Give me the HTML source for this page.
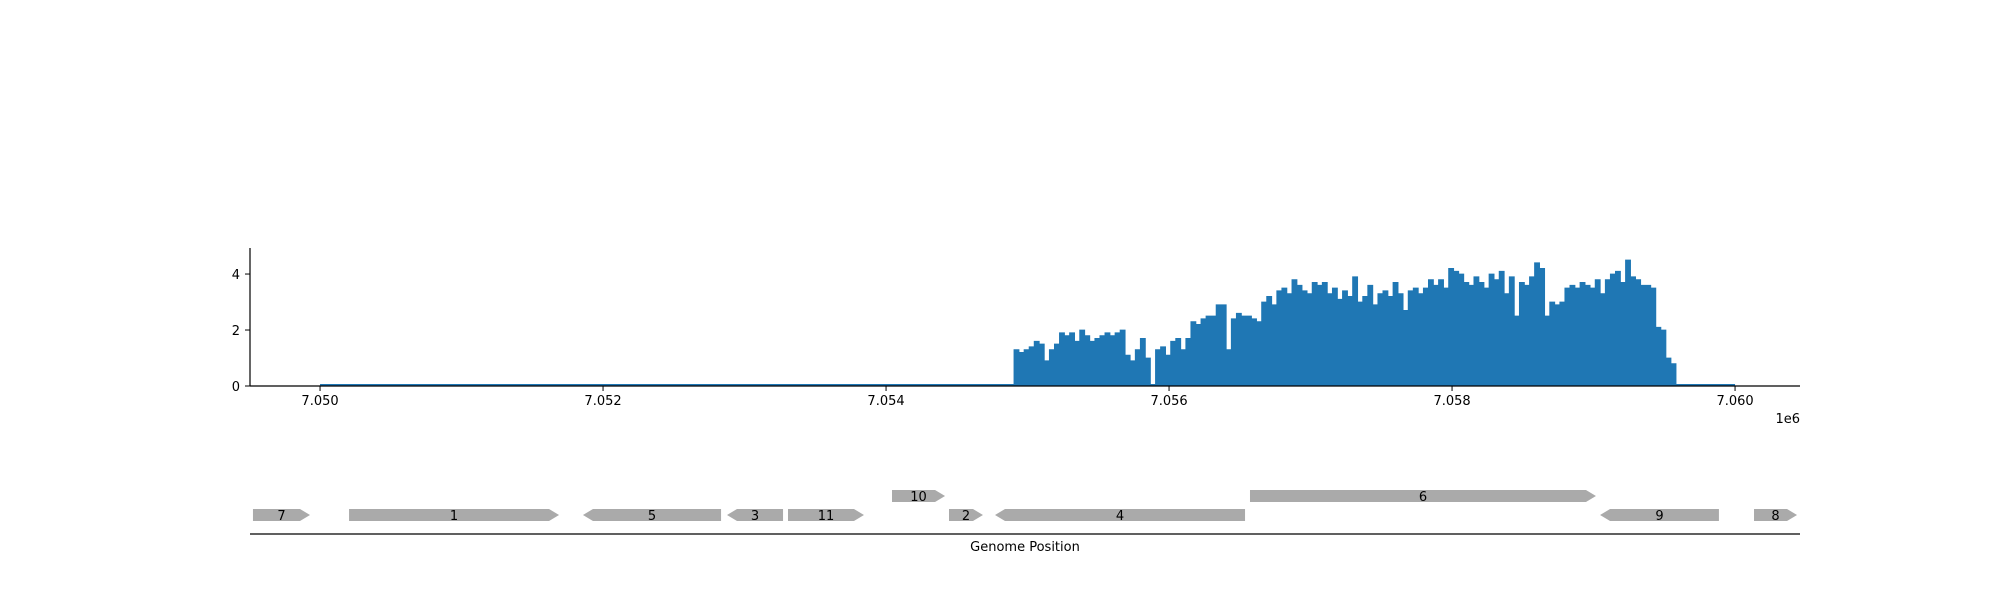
<!DOCTYPE html>
<html><head><meta charset="utf-8"><style>
html,body{margin:0;padding:0;background:#fff;}
svg{display:block;font-family:"DejaVu Sans","Liberation Sans",sans-serif;}
</style></head><body>
<svg id="chart" width="2000" height="600" viewBox="0 0 2000 600"></svg>
<script>
const covStart = 7054904;
const covEnd = 7059583;
const lineStart = 7050000;
const lineEnd = 7060000;
const coverage = [1.3,1.2,1.3,1.4,1.6,1.5,0.9,1.3,1.5,1.9,1.8,1.9,1.6,2.0,
1.8,1.6,1.7,1.8,1.9,1.8,1.9,2.0,1.1,0.9,1.3,1.7,1.0,0.0,
1.3,1.4,1.1,1.6,1.7,1.3,1.7,2.3,2.2,2.4,2.5,2.5,2.9,2.9,1.3,
2.4,2.6,2.5,2.5,2.4,2.3,3.0,3.2,2.9,3.4,3.5,3.3,3.8,3.6,3.4,
3.3,3.7,3.6,3.7,3.3,3.5,3.1,3.4,3.2,3.9,3.0,3.2,
3.6,2.9,3.3,3.4,3.2,3.7,3.3,2.7,3.4,3.5,
3.3,3.5,3.8,3.6,3.8,3.5,4.2,4.1,4.0,3.7,3.6,
3.9,3.7,3.5,4.0,3.8,4.1,3.3,3.9,2.5,3.7,3.6,3.9,4.4,4.2,2.5,
3.0,2.9,3.0,3.5,3.6,3.5,3.7,3.6,3.5,3.8,3.3,
3.8,4.0,4.1,3.7,4.5,3.9,3.8,3.6,3.6,3.5,2.1,2.0,1.0,0.8];
const xTicks = [7050000,7052000,7054000,7056000,7058000,7060000];
const xTickLabels = ["7.050","7.052","7.054","7.056","7.058","7.060"];
const yTicks = [0,2,4];
const geneNames = ["7","1","5","3","11","10","2","4","6","9","8"];
const geneStarts = [7049526,7050205,7051858,7052876,7053307,7054042,7054445,7054770,7056572,7059046,7060134];
const geneEnds = [7049929,7051689,7052834,7053272,7053844,7054417,7054685,7056537,7059017,7059886,7060438];
const geneStrands = [1,1,-1,-1,1,1,1,-1,1,-1,1];
const geneRows = [0,0,0,0,0,1,0,0,1,0,0];

const NS="http://www.w3.org/2000/svg";
const svg=document.getElementById('chart');
const L=250,R=1800,T=248,B=386;
const xMin=7049505,xMax=7060459,yMax=4.93;
const xs=v=>L+(v-xMin)/(xMax-xMin)*(R-L);
const ys=v=>B-v/yMax*(B-T);
function mk(tag,attrs,parent){const e=document.createElementNS(NS,tag);for(const k in attrs)e.setAttribute(k,attrs[k]);(parent||svg).appendChild(e);return e;}

// zero line
let zl=mk('line',{x1:xs(lineStart),x2:xs(lineEnd),y1:ys(0)-1,y2:ys(0)-1,stroke:'#1f77b4','stroke-width':2});


// coverage area
const bw=(covEnd-covStart)/coverage.length;
let d='M'+xs(covStart)+','+ys(0);
coverage.forEach((v,i)=>{const a=xs(covStart+i*bw),b=xs(covStart+(i+1)*bw);d+=' L'+a+','+ys(v)+' L'+b+','+ys(v);});
d+=' L'+xs(covEnd)+','+ys(0)+' Z';
let area=mk('path',{d:d,fill:'#1f77b4',stroke:'#1f77b4','stroke-width':0.8});



// axes
let ya=mk('line',{x1:L,x2:L,y1:T,y2:B,stroke:'#000','stroke-width':1.2});


let xa=mk('line',{x1:L,x2:R,y1:B,y2:B,stroke:'#000','stroke-width':1.2});


yTicks.forEach(v=>{
  mk('line',{x1:L-5,x2:L,y1:ys(v),y2:ys(v),stroke:'#000'});
  let t=mk('text',{x:L-10,y:ys(v)+5,'text-anchor':'end','font-size':13});
  t.textContent=String(v);
  
  
});
xTicks.forEach((v,i)=>{
  mk('line',{x1:xs(v),x2:xs(v),y1:B,y2:B+5,stroke:'#000'});
  let t=mk('text',{x:xs(v),y:B+19,'text-anchor':'middle','font-size':13});
  t.textContent=xTickLabels[i];
  
  
});
let off=mk('text',{x:1800,y:423,'text-anchor':'end','font-size':13});
off.textContent='1e6';



// genes
const rowY=[509,490],gh=12,ah=10;
geneNames.forEach((n,i)=>{
  const a=xs(geneStarts[i]),b=xs(geneEnds[i]),y=rowY[geneRows[i]],m=y+gh/2;
  let p;
  if(geneStrands[i]>0)p=`${a},${y} ${b-ah},${y} ${b},${m} ${b-ah},${y+gh} ${a},${y+gh}`;
  else p=`${a+ah},${y} ${b},${y} ${b},${y+gh} ${a+ah},${y+gh} ${a},${m}`;
  let g=mk('polygon',{points:p,fill:'#aaaaaa'});
  
  
  let t=mk('text',{x:(a+b)/2,y:m+5,'text-anchor':'middle','font-size':13,fill:'#000'});
  t.textContent=n;
  
  
});
let gl=mk('line',{x1:L,x2:R,y1:534,y2:534,stroke:'#000','stroke-width':1.2});


let xt=mk('text',{x:1025,y:551,'text-anchor':'middle','font-size':13});
xt.textContent='Genome Position';


</script>
</body></html>
